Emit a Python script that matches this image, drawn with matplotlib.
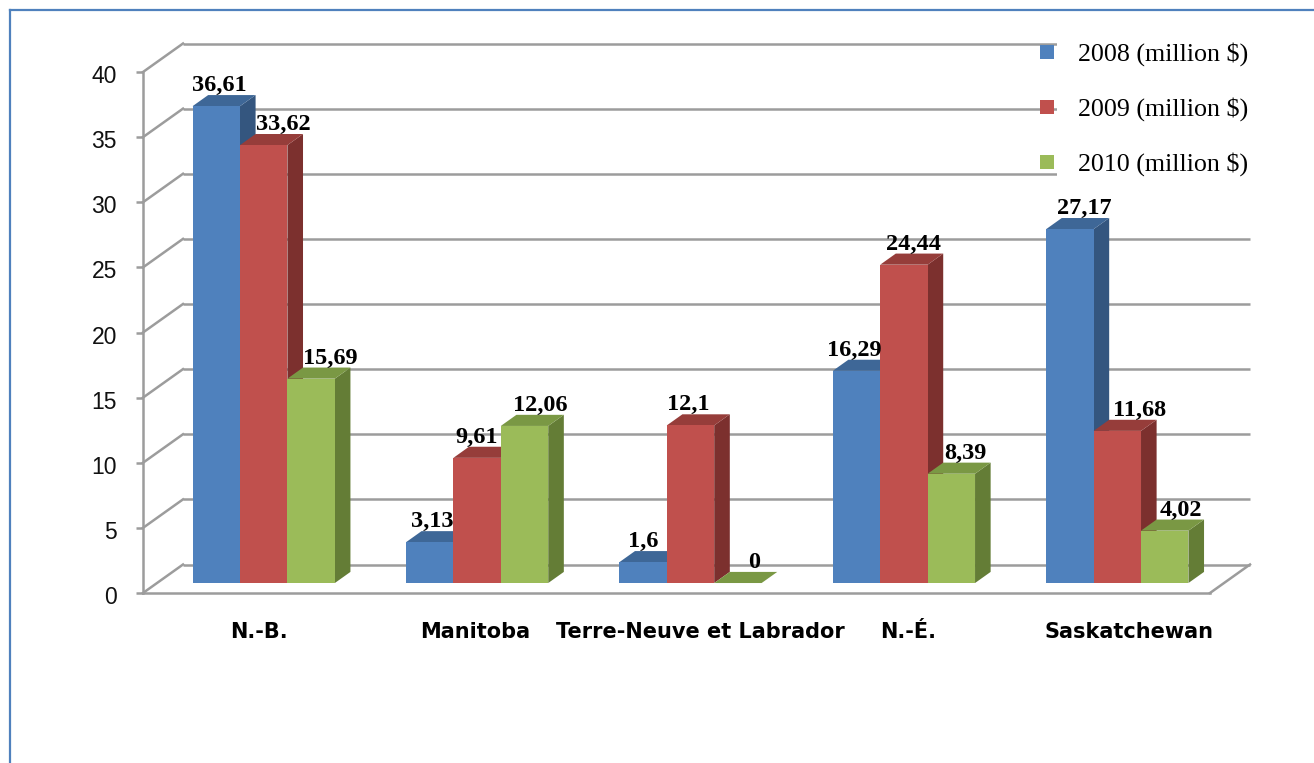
import matplotlib
matplotlib.use('Agg')
import matplotlib.pyplot as plt
from matplotlib.patches import Polygon, Rectangle
from matplotlib.lines import Line2D
from matplotlib.transforms import offset_copy

# ---------------- data ----------------
categories = ['N.-B.', 'Manitoba', 'Terre-Neuve et Labrador', 'N.-É.', 'Saskatchewan']
series_names = ['2008 (million $)', '2009 (million $)', '2010 (million $)']
v2008 = [36.61, 3.13, 1.6, 16.29, 27.17]
v2009 = [33.62, 9.61, 12.1, 24.44, 11.68]
v2010 = [15.69, 12.06, 0, 8.39, 4.02]
yticks = [0, 5, 10, 15, 20, 25, 30, 35, 40]

# ---------------- styles / layout ----------------
front_cols = ['#4F81BD', '#C0504D', '#9BBB59']
top_cols = ['#3E6797', '#963D3A', '#7A9844']
side_cols = ['#34567F', '#7C302E', '#647D36']
grid_col = '#9C9C9C'
# per-label horizontal nudges (pixels), as laid out in the original
label_dx = [[-5, -5, -8, -10, 7],
            [12, -8, -10, 2, 14],
            [11, 8, 8, 6, 8]]
cat_dx = [9, 12, 24, 18, 26]

W, H = 1314, 763
fig = plt.figure(figsize=(W / 100, H / 100), dpi=100)
fig.patch.set_facecolor('white')

x0px, x1px = 143, 1210   # front plane x extent
y0px, y1px = 593, 72     # value 0 and 40 on the front plane
ax = fig.add_axes([x0px / W, (H - y0px) / H, (x1px - x0px) / W, (y0px - y1px) / H])
ncat = len(categories)
ax.set_xlim(0, ncat)
ax.set_ylim(0, 40)
ax.axis('off')

px_x = ncat / (x1px - x0px)
px_y = 40 / (y0px - y1px)
DX = 40 * px_x     # full depth offset
DY = 28.5 * px_y
glw = 1.8

# back wall gridlines + left wall diagonals + ticks
for v in yticks:
    ax.plot([DX, ncat + DX], [v + DY, v + DY], color=grid_col, lw=glw,
            clip_on=False, solid_capstyle='butt', zorder=1)
    ax.plot([0, DX], [v, v + DY], color=grid_col, lw=glw, clip_on=False, zorder=1)
    ax.plot([-7 * px_x, 0], [v, v], color=grid_col, lw=glw, clip_on=False,
            solid_capstyle='butt', zorder=1)
    ax.text(0, v, str(v), transform=offset_copy(ax.transData, fig, x=-26, y=-11, units='dots'),
            ha='right', va='baseline', fontsize=16.5, family='Liberation Sans', color='#111111')
ax.plot([0, 0], [0, 40], color=grid_col, lw=glw, clip_on=False, zorder=1)
ax.plot([0, ncat], [0, 0], color=grid_col, lw=glw, clip_on=False, zorder=1)
ax.plot([ncat, ncat + DX], [0, DY], color=grid_col, lw=glw, clip_on=False, zorder=1)

# bars
series = [v2008, v2009, v2010]
bw = 1 / 4.5
d0 = 0.35
t = 0.39
z = 2
for i in range(ncat):
    for j, vals in enumerate(series):
        h = vals[i]
        xl = i + 0.5 + (j - 1.5) * bw + d0 * DX
        yb = d0 * DY
        ox, oy = t * DX, t * DY
        side = Polygon([(xl + bw, yb), (xl + bw + ox, yb + oy), (xl + bw + ox, yb + h + oy),
                        (xl + bw, yb + h)], closed=True, facecolor=side_cols[j],
                       edgecolor='none', clip_on=False, zorder=z)
        top = Polygon([(xl, yb + h), (xl + bw, yb + h), (xl + bw + ox, yb + h + oy),
                       (xl + ox, yb + h + oy)], closed=True, facecolor=top_cols[j],
                      edgecolor='none', clip_on=False, zorder=z)
        front = Rectangle((xl, yb), bw, h, facecolor=front_cols[j], edgecolor='none',
                          clip_on=False, zorder=z)
        ax.add_patch(side)
        ax.add_patch(top)
        ax.add_patch(front)
        z += 1
        lbl = f"{h:g}".replace('.', ',')
        ax.text(xl + bw / 2 + ox / 2, yb + h + oy, lbl,
                transform=offset_copy(ax.transData, fig, x=label_dx[j][i], y=4, units='dots'),
                ha='center', va='baseline', fontsize=17.5, fontweight='bold',
                family='Liberation Serif', color='black', zorder=50)

# category labels
for i, c in enumerate(categories):
    ax.text(i + 0.5, 0, c, transform=offset_copy(ax.transData, fig, x=cat_dx[i], y=-45, units='dots'),
            ha='center', va='baseline', fontsize=15, fontweight='bold',
            family='DejaVu Sans', color='black')

# legend (white box covering the gridlines, squares and serif labels)
fig.add_artist(Rectangle((1057 / W, (H - 185) / H), (W - 1057) / W, 155 / H,
                         transform=fig.transFigure, facecolor='white', edgecolor='none', zorder=5))
leg_centers = [52, 107, 162]
for j, name in enumerate(series_names):
    yc = leg_centers[j]
    fig.add_artist(Rectangle((1040 / W, (H - yc - 7) / H), 14 / W, 14 / H,
                             transform=fig.transFigure, facecolor=front_cols[j],
                             edgecolor='none', zorder=6))
    fig.text(1078 / W, (H - yc - 8.5) / H, name, ha='left', va='baseline',
             fontsize=18.7, family='Liberation Serif', color='black', zorder=7)

# outer border (blue)
fig.add_artist(Line2D([10 / W, 10 / W], [0, (H - 10) / H], transform=fig.transFigure,
                      color='#4F81BD', lw=1.6, zorder=8))
fig.add_artist(Line2D([10 / W, 1], [(H - 10) / H, (H - 10) / H], transform=fig.transFigure,
                      color='#4F81BD', lw=1.6, zorder=8))

fig.savefig('out.png', dpi=100, facecolor='white')
